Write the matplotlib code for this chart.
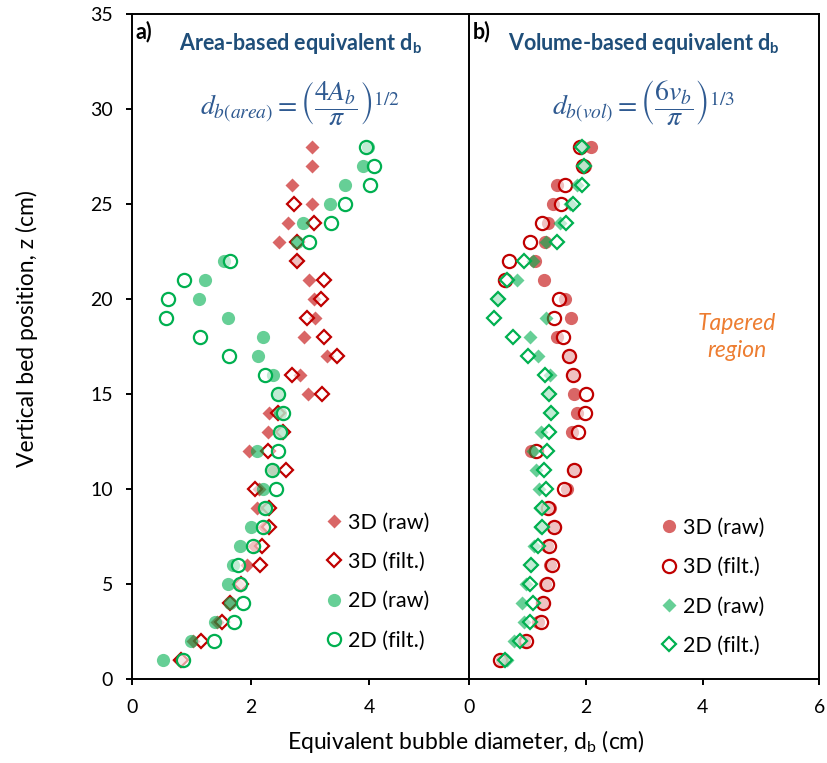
import numpy as np
import matplotlib
matplotlib.use("Agg")
import matplotlib.pyplot as plt

plt.rcParams['font.family'] = ['Lato', 'DejaVu Sans']
plt.rcParams['mathtext.fontset'] = 'stix'

z = np.arange(1, 29)

# a) area-based equivalent diameter (cm)
area_3d_raw = [0.78, 1.03, 1.43, 1.65, 1.79, 1.93, 2.06, 2.22, 2.10, 2.14, 2.37, 1.97, 2.28, 2.31,
               2.96, 2.83, 3.28, 2.90, 3.08, 3.07, 2.98, 2.77, 2.48, 2.62, 3.03, 2.70, 3.03, 3.03]
area_3d_filt = [0.82, 1.15, 1.52, 1.65, 1.83, 2.16, 2.18, 2.31, 2.31, 2.07, 2.59, 2.28, 2.55, 2.46,
                3.20, 2.69, 3.45, 3.24, 2.94, 3.18, 3.24, 2.77, 2.77, 3.06, 2.72]
area_2d_raw = [0.51, 0.99, 1.40, 1.65, 1.62, 1.70, 1.82, 2.00, 2.26, 2.20, 2.37, 2.10, 2.49, 2.49,
               2.46, 2.38, 2.12, 2.21, 1.61, 1.13, 1.23, 1.55, 2.77, 2.88, 3.33, 3.59, 3.89, 3.98]
area_2d_filt = [0.86, 1.38, 1.72, 1.86, 1.82, 1.79, 2.03, 2.20, 2.23, 2.42, 2.36, 2.46, 2.49, 2.55,
                2.46, 2.23, 1.63, 1.14, 0.57, 0.60, 0.87, 1.64, 2.98, 3.35, 3.59, 4.01, 4.08, 3.94]

# b) volume-based equivalent diameter (cm)
vol_3d_raw = [0.56, 0.93, 1.18, 1.26, 1.29, 1.38, 1.34, 1.47, 1.38, 1.68, 1.80, 1.05, 1.76, 1.84,
              1.80, 1.77, 1.71, 1.50, 1.74, 1.64, 1.28, 1.13, 1.30, 1.35, 1.44, 1.50, 1.98, 2.09]
vol_3d_filt = [0.53, 0.98, 1.23, 1.26, 1.33, 1.41, 1.36, 1.46, 1.35, 1.63, 1.80, 1.14, 1.87, 1.98,
               2.00, 1.77, 1.71, 1.60, 1.46, 1.54, 0.61, 0.68, 1.04, 1.24, 1.58, 1.64, 1.95, 1.90]
vol_2d_raw = [0.64, 0.77, 0.93, 0.91, 0.97, 1.06, 1.11, 1.21, 1.21, 1.20, 1.14, 1.10, 1.23, 1.40,
              1.37, 1.38, 1.17, 1.04, 1.31, 0.50, 0.82, 1.10, 1.31, 1.55, 1.73, 1.84, 1.97, 1.95]
vol_2d_filt = [0.62, 0.87, 1.04, 1.09, 1.04, 1.06, 1.18, 1.24, 1.24, 1.31, 1.28, 1.34, 1.37, 1.40,
               1.37, 1.29, 1.01, 0.75, 0.43, 0.50, 0.64, 0.94, 1.50, 1.65, 1.77, 1.94, 1.97, 1.93]

labels = ["3D (raw)", "3D (filt.)", "2D (raw)", "2D (filt.)"]

RED = "#C00000"
GREEN = "#00B050"
TITLE_BLUE = "#1F4E79"
EQ_BLUE = "#2F5A91"
WHITE_A = (1, 1, 1, 0.6)


def raw(ax, x, marker, color, ms, label):
    ax.plot(x, z[:len(x)], ls="none", marker=marker, ms=ms, mfc=color, mec="none",
            alpha=0.6, label=label)


def filt(ax, x, marker, color, ms, label):
    ax.plot(x, z[:len(x)], ls="none", marker=marker, ms=ms, mfc=WHITE_A, mec=color,
            mew=1.6, label=label)


def style(ax):
    for s in ax.spines.values():
        s.set_linewidth(1.4)
    ax.tick_params(direction="out", length=4.5, width=1.4, labelsize=14, pad=9.5)
    ax.set_ylim(0, 35)


fig = plt.figure(figsize=(8.27, 7.63), dpi=100)
axL = fig.add_axes([0.1602, 0.1097, 0.4073, 0.8713])
axR = fig.add_axes([0.5675, 0.1097, 0.4232, 0.8713])

# panel a
raw(axL, area_3d_raw, "D", RED, 7.2, labels[0])
filt(axL, area_3d_filt, "D", RED, 7.2, labels[1])
raw(axL, area_2d_raw, "o", GREEN, 9.5, labels[2])
filt(axL, area_2d_filt, "o", GREEN, 9.5, labels[3])
axL.set_xlim(0, 5.688)
axL.set_xticks([0, 2, 4])
axL.set_yticks(np.arange(0, 36, 5))
axL.spines["right"].set_visible(False)
style(axL)
axL.set_ylabel("Vertical bed position, z (cm)", fontsize=16.5)
axL.yaxis.set_label_coords(-0.28, 0.527)

# panel b
raw(axR, vol_3d_raw, "o", RED, 9.5, labels[0])
filt(axR, vol_3d_filt, "o", RED, 9.5, labels[1])
raw(axR, vol_2d_raw, "D", GREEN, 7.2, labels[2])
filt(axR, vol_2d_filt, "D", GREEN, 7.2, labels[3])
axR.set_xlim(0, 6)
axR.set_xticks([0, 2, 4, 6])
axR.set_yticks([])
style(axR)

fig.text(0.5635, 0.028, r"Equivalent bubble diameter, $\mathregular{d_b}$ (cm)",
         ha="center", va="center", fontsize=16.5)

for ax, tag, title, eq, legpos in [
    (axL, "a)", r"Area-based equivalent $\mathregular{d_b}$",
     r"$d_{b(area)}=\left(\dfrac{4A_b}{\pi}\right)^{1/2}$", (0.533, 0.267)),
    (axR, "b)", r"Volume-based equivalent $\mathregular{d_b}$",
     r"$d_{b(vol)}=\left(\dfrac{6v_b}{\pi}\right)^{1/3}$", (0.510, 0.259)),
]:
    ax.text(0.010, 0.99, tag, transform=ax.transAxes, ha="left", va="top",
            fontsize=15.5, fontweight="bold")
    ax.text(0.50, 0.957, title, transform=ax.transAxes, ha="center", va="center",
            fontsize=15.5, fontweight="bold", color=TITLE_BLUE)
    ax.text(0.497, 0.867, eq, transform=ax.transAxes, ha="center", va="center",
            fontsize=20, color=EQ_BLUE)
    ax.legend(loc="upper left", bbox_to_anchor=legpos, frameon=False, fontsize=15.5,
              handletextpad=0.15, handlelength=1.0, labelspacing=0.9, borderpad=0)

axR.text(0.764, 0.515, "Tapered\nregion", transform=axR.transAxes, ha="center",
         va="center", fontsize=16.5, style="italic", color="#ED7D31", linespacing=1.35)

fig.savefig("out.png", dpi=100)
